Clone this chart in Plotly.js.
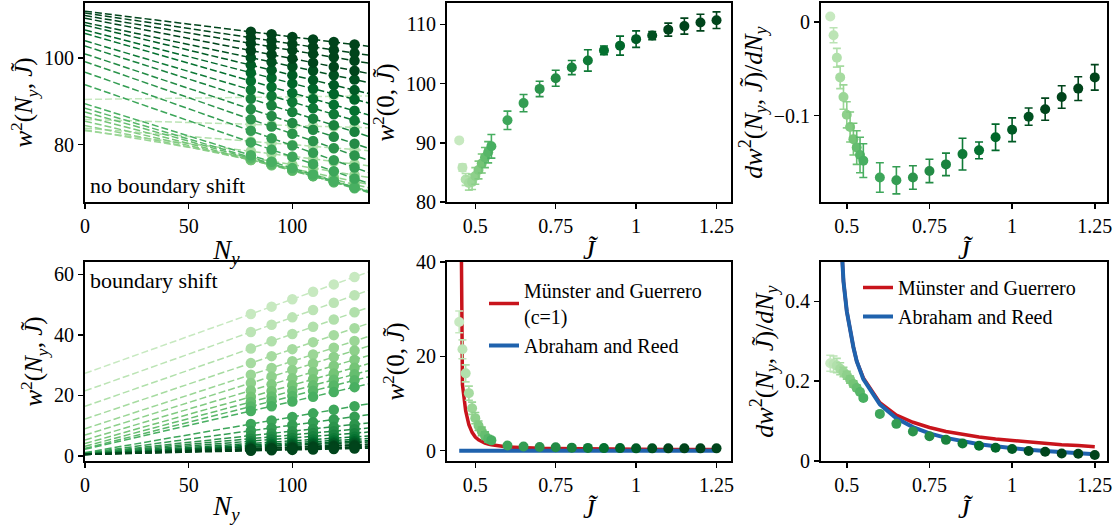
<!DOCTYPE html>
<html><head><meta charset="utf-8">
<script src="https://cdn.plot.ly/plotly-3.0.1.min.js"></script>
<style>html,body{margin:0;padding:0;background:#fff}</style>
</head><body><div id="chart" style="width:1115px;height:525px"></div>
<script>
// ---------------- data ----------------
const J = [0.45,0.46,0.47,0.48,0.49,0.50,0.51,0.52,0.53,0.54,0.55,0.60,0.65,0.70,0.75,0.80,0.85,0.90,0.95,1.00,1.05,1.10,1.15,1.20,1.25];
const Ny = [80,90,100,110,120,130];
const NyFit = [0,140];

// no boundary shift: intercept w2(0,J) and slope dw2/dNy
const w2zeroNB    = [90.4,85.8,83.8,83.2,83.4,84.4,85.4,86.5,87.5,88.4,89.4,93.8,96.7,99.1,100.9,102.7,103.9,105.6,106.4,107.5,108.1,109.1,109.7,110.3,110.7];
const w2zeroNBerr = [0.2,0.6,1.0,1.2,1.3,1.4,1.5,1.6,1.7,1.8,2.0,1.55,1.45,1.3,1.35,1.2,1.8,0.75,1.6,1.4,0.7,1.1,1.35,1.4,1.4];
const slopeNB     = [0.006,-0.014,-0.038,-0.059,-0.080,-0.099,-0.112,-0.125,-0.134,-0.142,-0.148,-0.166,-0.169,-0.166,-0.159,-0.152,-0.141,-0.137,-0.123,-0.115,-0.101,-0.093,-0.080,-0.071,-0.059];
const slopeNBerr  = [0.002,0.008,0.010,0.012,0.013,0.014,0.016,0.017,0.018,0.019,0.018,0.0157,0.0145,0.0125,0.0125,0.012,0.017,0.009,0.014,0.0127,0.0092,0.0118,0.012,0.0127,0.0136];

// boundary shift: intercept and slope
const w2zeroBS    = [27.3,21.5,16.4,12.2,9.0,6.9,5.3,4.1,3.2,2.5,2.2,1.1,0.9,0.8,0.75,0.65,0.6,0.55,0.55,0.5,0.5,0.5,0.5,0.5,0.5];
const w2zeroBSerr = [2.3,2.0,1.8,1.5,1.3,1.2,1.0,0.9,0.8,0.7,0.6,0.2,0.15,0.1,0.1,0.1,0.1,0.1,0.1,0.1,0.1,0.1,0.1,0.1,0.1];
const slopeBS     = [0.245,0.243,0.239,0.231,0.223,0.215,0.204,0.193,0.183,0.173,0.158,0.118,0.093,0.074,0.062,0.053,0.044,0.038,0.033,0.030,0.025,0.023,0.019,0.018,0.015];
const slopeBSerr  = [0.02,0.02,0.018,0.015,0.012,0.010,0.009,0.008,0.007,0.006,0.006,0.002,0.002,0.002,0.002,0.002,0.002,0.002,0.002,0.002,0.002,0.002,0.002,0.002,0.002];

// theory curves
const mgW2   = [100,14,8.5,5.5,3.9,2.9,2.3,1.9,1.6,1.4,1.25,0.8,0.6,0.5,0.45,0.4,0.37,0.34,0.32,0.3,0.28,0.27,0.26,0.25,0.24];
const arW2   = [0,0,0,0,0,0,0,0,0,0,0,0,0,0,0,0,0,0,0,0,0,0,0,0,0];
const mgSlope= [2.5,1.4,0.9,0.6,0.45,0.375,0.325,0.285,0.25,0.226,0.208,0.146,0.115,0.097,0.084,0.074,0.066,0.060,0.055,0.051,0.047,0.044,0.041,0.039,0.036];
const arSlope= [2.5,1.4,0.9,0.6,0.45,0.375,0.325,0.285,0.25,0.225,0.205,0.142,0.107,0.085,0.069,0.058,0.049,0.042,0.037,0.032,0.028,0.025,0.022,0.019,0.017];

const legendMG1 = 'Münster and Guerrero<br>(c=1)';
const legendMG2 = 'Münster and Guerrero';
const legendAR  = 'Abraham and Reed';

// ---------------- style ----------------
const FONT = '"Liberation Serif", "Times New Roman", Times, serif';
const greens = ['#f7fcf5','#e5f5e0','#c7e9c0','#a1d99b','#74c476','#41ab5d','#238b45','#006d2c','#00441b'];
function hex2rgb(h){return [1,3,5].map(k=>parseInt(h.substr(k,2),16));}
function cmap(t){
  const s = t*(greens.length-1); const k = Math.min(Math.floor(s), greens.length-2); const f = s-k;
  const a = hex2rgb(greens[k]), b = hex2rgb(greens[k+1]);
  const c = a.map((v,j)=>Math.round(v+(b[j]-v)*f));
  return 'rgb('+c.join(',')+')';
}
const colors = J.map((_,i)=>cmap(Math.min(1, 0.25 + 0.75*i/21)));
const RED = '#c8141c', BLUE = '#1f62ad';

const traces = [];
// left panels: fit lines + points
function leftPanel(a, b, xa, ya){
  J.forEach((j,i)=>{
    traces.push({x:NyFit, y:NyFit.map(n=>a[i]+b[i]*n), mode:'lines', xaxis:xa, yaxis:ya,
      line:{color:colors[i], width:1.5, dash:'7px,3px'}, showlegend:false, hoverinfo:'skip'});
    traces.push({x:Ny, y:Ny.map(n=>a[i]+b[i]*n), mode:'markers', xaxis:xa, yaxis:ya,
      marker:{color:colors[i], size:10.5}, showlegend:false});
  });
}
leftPanel(w2zeroNB, slopeNB, 'x', 'y');
leftPanel(w2zeroBS, slopeBS, 'x4', 'y4');

// theory curves
traces.push({x:J, y:mgW2, mode:'lines', xaxis:'x5', yaxis:'y5', line:{color:RED,width:3.5}, name:legendMG1, legend:'legend'});
traces.push({x:J, y:arW2, mode:'lines', xaxis:'x5', yaxis:'y5', line:{color:BLUE,width:4}, name:legendAR, legend:'legend'});
traces.push({x:J, y:mgSlope, mode:'lines', xaxis:'x6', yaxis:'y6', line:{color:RED,width:3.5}, name:legendMG2, legend:'legend2'});
traces.push({x:J, y:arSlope, mode:'lines', xaxis:'x6', yaxis:'y6', line:{color:BLUE,width:4}, name:legendAR, legend:'legend2'});

function errPanel(v, e, xa, ya){
  J.forEach((j,i)=>{
    traces.push({x:[j], y:[v[i]], mode:'markers', xaxis:xa, yaxis:ya,
      marker:{color:colors[i], size:10},
      error_y:{type:'data', array:[e[i]], color:colors[i], thickness:1.6, width:4},
      showlegend:false});
  });
}
errPanel(w2zeroNB, w2zeroNBerr, 'x2', 'y2');
errPanel(slopeNB, slopeNBerr, 'x3', 'y3');
errPanel(w2zeroBS, w2zeroBSerr, 'x5', 'y5');
errPanel(slopeBS, slopeBSerr, 'x6', 'y6');

// ---------------- layout ----------------
const W = 1115, H = 525;
const dx = (l,r)=>[l/W, r/W];
const dy = (t,b)=>[1-b/H, 1-t/H];
function ax(domain, range, tv, tt, title, anchor, tsize, standoff){
  return {domain, range, tickvals:tv, ticktext:tt, anchor,
    showline:true, mirror:true, linecolor:'#000', linewidth:2,
    ticks:'outside', ticklen:5, tickwidth:1.5, tickcolor:'#000',
    showgrid:false, zeroline:false, fixedrange:true,
    tickfont:{family:FONT, size:20, color:'#000'},
    title:{text:title, font:{family:FONT, size:tsize||25, color:'#000'}, standoff: standoff===undefined?4:standoff}};
}
const Jt = '<i>J\u0303</i>';
const Nyt = '<i>N<sub>y</sub></i>';
const w2N = '<i>w</i><sup>2</sup>(<i>N<sub>y</sub></i>, <i>J\u0303</i>)';
const w20 = '<i>w</i><sup>2</sup>(0, <i>J\u0303</i>)';
const dw2 = '<i>dw</i><sup>2</sup>(<i>N<sub>y</sub></i>, <i>J\u0303</i>)/<i>dN<sub>y</sub></i>';
const jt = [0.5,0.75,1,1.25], jl = ['0.5','0.75','1','1.25'];

const colL = dx(85,368), colM = dx(447,731), colR = dx(821,1107);
const rowT = dy(3,202), rowB = dy(262,461);

const layout = {
  width:W, height:H, margin:{l:0,r:0,t:0,b:0},
  paper_bgcolor:'#fff', plot_bgcolor:'rgba(0,0,0,0)',
  font:{family:FONT, color:'#000'},
  xaxis:  ax(colL, [0,136.5], [0,50,100], ['0','50','100'], Nyt, 'y', 27),
  yaxis:  ax(rowT, [66.8,112.6], [80,100], ['80','100'], w2N, 'x'),
  xaxis2: ax(colM, [0.412,1.295], jt, jl, Jt, 'y2', 27),
  yaxis2: ax(rowT, [80,113.6], [80,90,100,110], ['80','90','100','110'], w20, 'x2'),
  xaxis3: ax(colR, [0.422,1.287], jt, jl, Jt, 'y3', 27),
  yaxis3: ax(rowT, [-0.1922,0.0205], [-0.1,0], ['\u22120.1','0'], dw2, 'x3', 26),
  xaxis4: ax(colL, [0,136.5], [0,50,100], ['0','50','100'], Nyt, 'y4', 27),
  yaxis4: ax(rowB, [-1.67,64.1], [0,20,40,60], ['0','20','40','60'], w2N, 'x4'),
  xaxis5: ax(colM, [0.412,1.295], jt, jl, Jt, 'y5', 27),
  yaxis5: ax(rowB, [-2.18,40], [0,20,40], ['0','20','40'], w20, 'x5'),
  xaxis6: ax(colR, [0.422,1.287], jt, jl, Jt, 'y6', 27),
  yaxis6: ax(rowB, [0,0.4985], [0,0.2,0.4], ['0','0.2','0.4'], dw2, 'x6', 26),
  legend:  {x:484/W, y:1-271/H, xanchor:'left', yanchor:'top', bgcolor:'rgba(0,0,0,0)',
            font:{family:FONT, size:20, color:'#000'}, tracegroupgap:0, itemwidth:30},
  legend2: {x:858/W, y:1-268/H, xanchor:'left', yanchor:'top', bgcolor:'rgba(0,0,0,0)',
            font:{family:FONT, size:20, color:'#000'}, tracegroupgap:0, itemwidth:30},
  annotations:[
    {xref:'paper', yref:'paper', x:88/W, y:1-185/H, xanchor:'left', yanchor:'middle', showarrow:false,
     text:'no boundary shift', font:{family:FONT, size:22, color:'#000'}},
    {xref:'paper', yref:'paper', x:88/W, y:1-280/H, xanchor:'left', yanchor:'middle', showarrow:false,
     text:'boundary shift', font:{family:FONT, size:22, color:'#000'}}
  ]
};
Plotly.newPlot('chart', traces, layout, {staticPlot:true, displayModeBar:false});
</script>
</body></html>
